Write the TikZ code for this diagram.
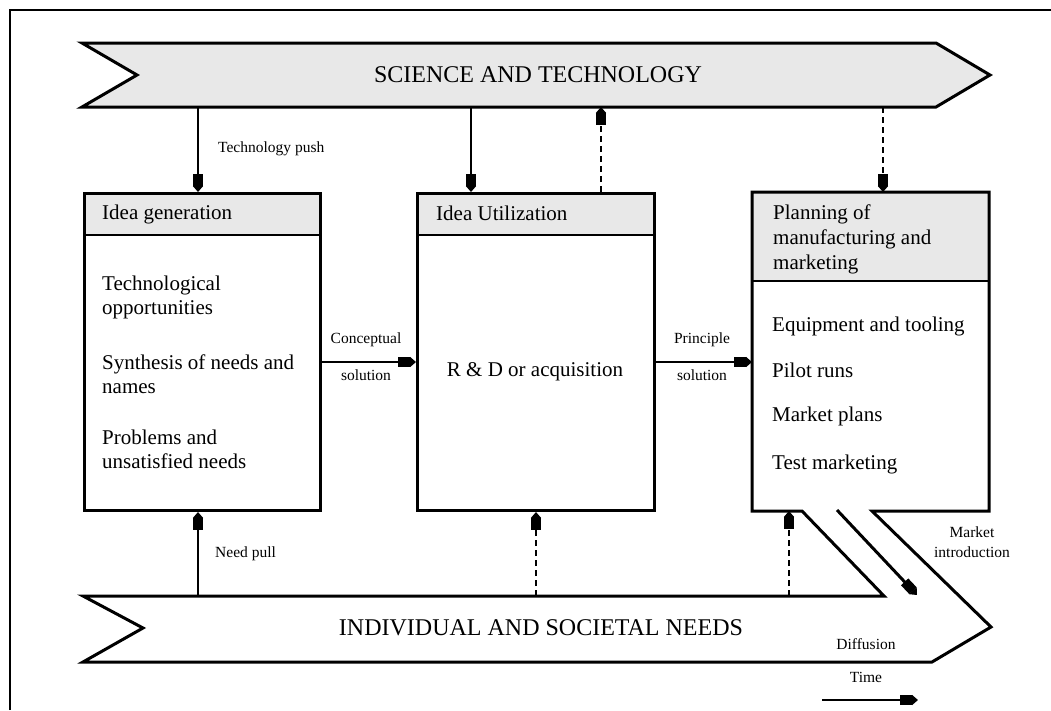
\documentclass[tikz,border=0pt]{standalone}
\usepackage{fontspec}
\setmainfont{Liberation Serif}
\usetikzlibrary{arrows.meta}
\definecolor{panelgrey}{HTML}{E8E8E8}
\newcommand{\bodyfont}{\fontsize{21}{25}\selectfont}
\newcommand{\labelfont}{\fontsize{15.5}{19}\selectfont}
\newcommand{\bannerfont}{\fontsize{24}{28}\selectfont}
\begin{document}
\begin{tikzpicture}[x=1pt,y=-1pt,
  outline/.style={line width=3pt, line join=miter},
  boxframe/.style={draw, line width=3pt, rectangle, inner sep=0pt, anchor=north west},
  txt/.style={font=\bodyfont, anchor=base west, inner sep=0pt},
  lbl/.style={font=\labelfont, inner sep=0pt},
  flow/.style={line width=2.8pt, -{Rectangle[length=12pt,width=10pt]Triangle[length=6pt,width=10pt]}},
  thinflow/.style={flow, line width=1.8pt},
  weakflow/.style={flow, dashed, dash pattern=on 6pt off 4pt},
]
\useasboundingbox (0,0) rectangle (1051,710);

% outer frame
\draw[line width=2pt] (10,710) -- (10,10) -- (1051,10);

% science and technology banner
\draw[outline, fill=panelgrey] (82,43) -- (936,43) -- (990,75) -- (936,107)
  -- (82,107) -- (137,75) -- cycle;
\node[font=\bannerfont, inner sep=0pt] (sci) at (538,75) {SCIENCE AND TECHNOLOGY};
\coordinate (sciA) at (198,107);
\coordinate (sciB) at (471,107);
\coordinate (sciC) at (601,107);
\coordinate (sciD) at (883,107);

% header bands
\fill[panelgrey] (83,192) rectangle (319,235);
\fill[panelgrey] (416,192) rectangle (653,235);
\fill[panelgrey] (752,192) rectangle (989,281);
\draw[line width=2.6pt] (83,235) -- (319,235);
\draw[line width=2.6pt] (416,235) -- (653,235);
\draw[line width=2.6pt] (752,281) -- (989,281);

% idea generation
\node[boxframe, minimum width=236pt, minimum height=317pt] (gen) at (83,192) {};
\node[txt] (genT) at (102,219) {Idea generation};
\node[txt] (g1) at (102,290) {Technological};
\node[txt] (g2) at (102,314) {opportunities};
\node[txt] (g3) at (102,369) {Synthesis of needs and};
\node[txt] (g4) at (102,393) {names};
\node[txt] (g5) at (102,444) {Problems and};
\node[txt] (g6) at (102,468) {unsatisfied needs};

% idea utilization
\node[boxframe, minimum width=237pt, minimum height=317pt] (use) at (416,192) {};
\node[txt] (useT) at (436,220) {Idea Utilization};
\node[font=\bodyfont, inner sep=0pt, anchor=base] (rd) at (535,376) {R \& D or acquisition};

% planning box merged with the needs banner
\draw[outline] (752,192) -- (989,192) -- (989,511) -- (872,511) -- (991,627)
  -- (932,662) -- (83,662) -- (143,628) -- (83,596) -- (884,596)
  -- (802,511) -- (752,511) -- cycle;
\coordinate (planNW) at (752,192);
\coordinate (planSE) at (989,511);
\node[txt] (p1) at (773,219) {Planning of};
\node[txt] (p2) at (773,244) {manufacturing and};
\node[txt] (p3) at (773,269) {marketing};
\node[txt] (p4) at (772,331) {Equipment and tooling};
\node[txt] (p5) at (772,377) {Pilot runs};
\node[txt] (p6) at (772,421) {Market plans};
\node[txt] (p7) at (772,469) {Test marketing};

\node[font=\bannerfont, inner sep=0pt] (needs) at (541,628) {INDIVIDUAL AND SOCIETAL NEEDS};
\coordinate (ndA) at (198,596);
\coordinate (ndB) at (536,596);
\coordinate (ndC) at (789,596);

% vertical connectors
\draw[flow] (sciA) -- (sciA |- gen.north);
\draw[thinflow] (sciB) -- (sciB |- use.north);
\draw[weakflow] (sciC |- use.north) -- (sciC);
\draw[weakflow] (sciD) -- (sciD |- planNW);
\draw[flow] (ndA) -- (ndA |- gen.south);
\draw[weakflow, line width=2pt] (ndB) -- (ndB |- use.south);
\draw[weakflow] (ndC) -- (ndC |- planSE);

% horizontal connectors
\coordinate (cs) at (319,362);
\coordinate (ps) at (653,362);
\draw[thinflow] (cs) -- (cs -| use.west);
\draw[thinflow] (ps) -- (ps -| planNW);

% market introduction and time
\coordinate (miA) at (837,510);
\coordinate (miB) at (917,595);
\draw[flow, line width=3pt] (miA) -- (miB);
\coordinate (tA) at (822,700);
\coordinate (tB) at (918,700);
\draw[flow] (tA) -- (tB);

% labels
\node[lbl, anchor=base west] (tp) at (218,152) {Technology push};
\node[lbl, anchor=base west] (np) at (215,557) {Need pull};
\node[lbl, anchor=base] (cl1) at (366,343) {Conceptual};
\node[lbl, anchor=base] (cl2) at (366,380) {solution};
\node[lbl, anchor=base] (pl1) at (702,343) {Principle};
\node[lbl, anchor=base] (pl2) at (702,380) {solution};
\node[lbl, anchor=base] (mi1) at (972,537) {Market};
\node[lbl, anchor=base] (mi2) at (972,557) {introduction};
\node[lbl, anchor=base] (df) at (866,649) {Diffusion};
\node[lbl, anchor=base] (tm) at (866,682) {Time};
\end{tikzpicture}
\end{document}
